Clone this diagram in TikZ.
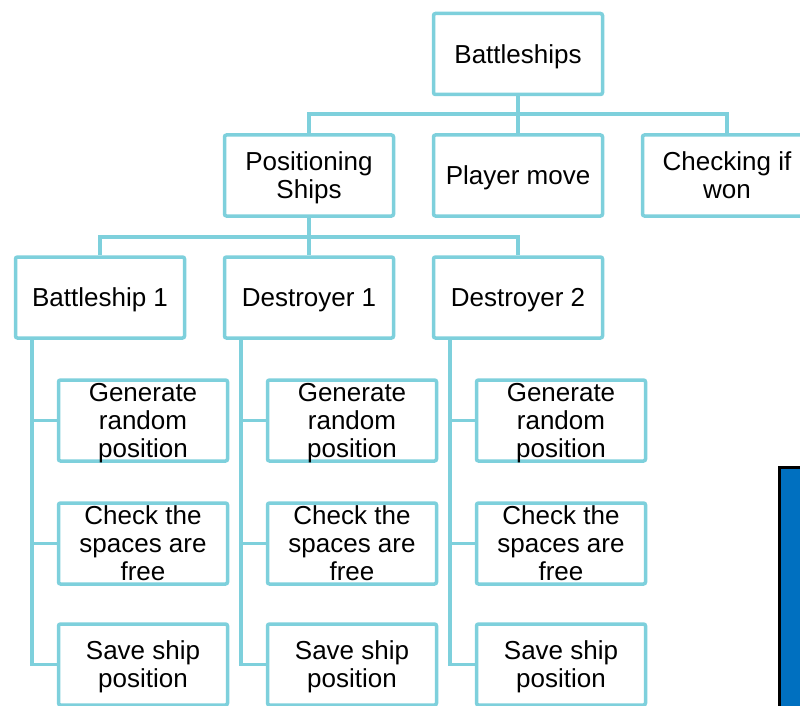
\documentclass[tikz,border=0pt]{standalone}
\usepackage{fontspec}
\setmainfont{Liberation Sans}
\definecolor{linecol}{HTML}{7ED0DC}
\definecolor{blockblue}{HTML}{0070C0}
\tikzset{
  box/.style={draw=linecol, line width=3.5pt, fill=white, rounded corners=2pt,
    minimum width=169pt, minimum height=81pt, inner sep=0pt, align=center,
    text depth=0pt, font=\fontsize{26}{28}\selectfont},
  link/.style={draw=linecol, line width=3.5pt}
}
\begin{document}
\begin{tikzpicture}[x=1pt,y=-1pt]
\useasboundingbox (0,0) rectangle (800,706);
\clip (0,0) rectangle (800,706);
% top level
\node[box] (root) at (518,54) {Battleships};
\node[box] (pos) at (309,175.5) {Positioning\\Ships};
\node[box] (move) at (518,175.5) {Player move};
\node[box] (won) at (727,175.5) {Checking if\\won};
\draw[link] (root.south) -- ++(0,18) -| (pos.north);
\draw[link] (root.south) -- ++(0,18) -| (move.north);
\draw[link] (root.south) -- ++(0,18) -| (won.north);
% ships
\node[box] (bs1) at (100,297.5) {Battleship 1};
\node[box] (ds1) at (309,297.5) {Destroyer 1};
\node[box] (ds2) at (518,297.5) {Destroyer 2};
\draw[link] (pos.south) -- ++(0,19) -| (bs1.north);
\draw[link] (pos.south) -- ++(0,19) -| (ds1.north);
\draw[link] (pos.south) -- ++(0,19) -| (ds2.north);
% steps for every ship
\foreach \s/\x in {bs1/143,ds1/352,ds2/561}{
  \node[box] (\s gen) at (\x,420.5) {Generate\\random\\position};
  \node[box] (\s chk) at (\x,543.5) {Check the\\spaces are\\free};
  \node[box] (\s sav) at (\x,664.5) {Save ship\\position};
  \draw[link] ([xshift=18pt]\s.south west) |- (\s gen.west);
  \draw[link] ([xshift=18pt]\s.south west) |- (\s chk.west);
  \draw[link] ([xshift=18pt]\s.south west) |- (\s sav.west);
}
% blue block on the right
\draw[black, line width=3pt, fill=blockblue] (779,467) rectangle (830,730);
\end{tikzpicture}
\end{document}
